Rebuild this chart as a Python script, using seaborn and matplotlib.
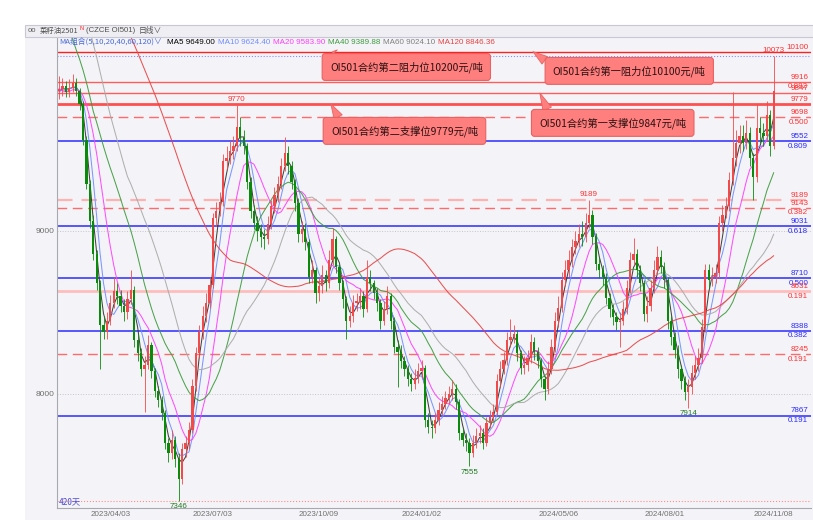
import pandas as pd
import matplotlib
matplotlib.use('Agg')
import matplotlib.pyplot as plt
from matplotlib.patches import Rectangle
import seaborn as sns

# each bar = 2 trading days (420 days shown -> 210 bars)
pre_close = [11250, 11300, 11220, 11280, 11350, 11300, 11260, 11200, 11240, 11300,
             11280, 11220, 11180, 11250, 11300, 11260, 11200, 11230, 11280, 11250,
             11200, 11180, 11240, 11220, 11200, 11230, 11260, 11200, 11180, 11250,
             11220, 11190, 11230, 11200, 11170, 11220, 11240, 11200, 11180, 11210,
             11190, 11150, 11120, 11160, 11100, 11130, 10950, 10880, 10820, 10760,
             10700, 10050, 9900, 9850, 9820, 9860, 9830, 9870, 9840, 9860]

closes = [9870, 9890, 9850, 9880, 9910, 9860, 9780, 9560, 9290, 9060,
          8860, 8680, 8420, 8380, 8450, 8560, 8630, 8600, 8540, 8500,
          8580, 8640, 8330, 8250, 8150, 8180, 8300, 8140, 8020, 7960,
          7880, 7700, 7640, 7720, 7600, 7480, 7660, 7700, 7780, 8050,
          8250, 8380, 8480, 8560, 8670, 9080, 9120, 9180, 9430, 9450,
          9490, 9520, 9640, 9570, 9520, 9300, 9120, 9050, 9000, 8960,
          8950, 9040, 9150, 9220, 9290, 9400, 9480, 9400, 9300, 9170,
          8980, 9010, 8930, 8720, 8760, 8620, 8660, 8730, 8680, 8820,
          8950, 8780, 8680, 8580, 8450, 8480, 8560, 8560, 8600, 8520,
          8720, 8680, 8620, 8560, 8450, 8520, 8600, 8450, 8290, 8260,
          8200, 8150, 8090, 8060, 8100, 8140, 8160, 7840, 7800, 7790,
          7840, 7900, 7940, 7975, 8000, 8030, 7950, 7760, 7720, 7700,
          7640, 7700, 7740, 7760, 7700, 7820, 7860, 7890, 8080, 8150,
          8210, 8330, 8350, 8370, 8250, 8160, 8180, 8220, 8320, 8260,
          8200, 8090, 8030, 8150, 8290, 8450, 8530, 8700, 8760, 8820,
          8900, 8940, 8980, 8960, 9050, 9100, 8960, 8800, 8760, 8720,
          8590, 8520, 8470, 8440, 8450, 8520, 8650, 8820, 8860, 8760,
          8680, 8490, 8540, 8650, 8760, 8840, 8780, 8700, 8450, 8350,
          8270, 8150, 8080, 8010, 8040, 8130, 8180, 8220, 8410, 8760,
          8700, 8720, 8740, 9050, 9100, 9150, 9310, 9450, 9540, 9580,
          9540, 9600, 9450, 9330, 9630, 9600, 9580, 9710, 9520, 9860]

highs = [9950, 9940, 9920, 9930, 9960, 9940, 9880, 9800, 9580, 9310,
         9100, 8880, 8700, 8480, 8500, 8610, 8720, 8680, 8640, 8580,
         8630, 8760, 8660, 8370, 8280, 8230, 8360, 8320, 8160, 8050,
         7990, 7900, 7730, 7780, 7740, 7640, 7700, 7740, 7830, 8090,
         8290, 8420, 8540, 8620, 8720, 9110, 9180, 9240, 9470, 9520,
         9550, 9580, 9770, 9700, 9620, 9540, 9330, 9160, 9090, 9040,
         9010, 9090, 9190, 9270, 9340, 9450, 9575, 9520, 9430, 9320,
         9200, 9060, 9050, 8950, 8820, 8780, 8710, 8790, 8760, 8880,
         9020, 8970, 8800, 8700, 8600, 8540, 8610, 8620, 8650, 8630,
         8820, 8760, 8700, 8650, 8580, 8570, 8660, 8620, 8470, 8330,
         8300, 8230, 8180, 8130, 8150, 8190, 8210, 8180, 7880, 7840,
         7880, 7950, 7990, 8020, 8050, 8085, 8060, 7970, 7790, 7760,
         7730, 7750, 7790, 7810, 7790, 7860, 7900, 7940, 8120, 8200,
         8260, 8380, 8460, 8420, 8390, 8270, 8230, 8270, 8370, 8350,
         8290, 8220, 8110, 8200, 8340, 8500, 8600, 8750, 8820, 8880,
         8950, 9000, 9040, 9060, 9110, 9189, 9130, 8990, 8840, 8790,
         8740, 8620, 8550, 8500, 8500, 8570, 8700, 8870, 8955, 8890,
         8790, 8700, 8600, 8700, 8820, 8910, 8880, 8810, 8720, 8480,
         8380, 8300, 8180, 8110, 8090, 8180, 8230, 8280, 8460, 8800,
         8800, 8780, 8800, 9090, 9160, 9210, 9360, 9850, 9620, 9650,
         9650, 9680, 9640, 9480, 9780, 9700, 9660, 9800, 9740, 10073]

lows = [9810, 9830, 9820, 9820, 9850, 9830, 9740, 9530, 9260, 9020,
        8820, 8640, 8150, 8340, 8340, 8420, 8530, 8550, 8500, 8450,
        8460, 8550, 8290, 8200, 8110, 7890, 8150, 8100, 7980, 7920,
        7840, 7660, 7580, 7600, 7550, 7346, 7450, 7610, 7660, 7760,
        8020, 8220, 8340, 8440, 8530, 8650, 9030, 9090, 9150, 9380,
        9410, 9440, 9490, 9520, 9470, 9260, 9080, 9010, 8940, 8900,
        8890, 8920, 9010, 9110, 9180, 9260, 9370, 9350, 9260, 9120,
        8930, 8930, 8880, 8680, 8680, 8560, 8570, 8620, 8630, 8650,
        8790, 8740, 8640, 8530, 8340, 8410, 8440, 8510, 8520, 8470,
        8500, 8630, 8580, 8510, 8400, 8420, 8490, 8400, 8250, 8040,
        8160, 8110, 8050, 8020, 8030, 8070, 8100, 7800, 7760, 7730,
        7760, 7810, 7870, 7910, 7940, 7960, 7910, 7720, 7680, 7650,
        7555, 7610, 7670, 7700, 7660, 7680, 7790, 7830, 7870, 8040,
        8120, 8180, 8290, 8310, 8200, 8120, 8120, 8140, 8190, 8210,
        8160, 8040, 7960, 8000, 8120, 8260, 8410, 8500, 8660, 8720,
        8780, 8860, 8900, 8910, 8930, 9020, 8920, 8760, 8710, 8670,
        8550, 8470, 8420, 8390, 8290, 8420, 8490, 8620, 8790, 8720,
        8630, 8450, 8440, 8510, 8620, 8730, 8740, 8650, 8400, 8300,
        8220, 8100, 8030, 7960, 7914, 8000, 8090, 8140, 8190, 8380,
        8650, 8660, 8680, 8710, 9000, 9080, 9120, 9280, 9400, 9480,
        9490, 9500, 9400, 9190, 9300, 9540, 9520, 9550, 9460, 9500]

date_pos = [15, 45, 76, 106, 146, 177, 209]
date_labels = ['2023/04/03', '2023/07/03', '2023/10/09', '2024/01/02',
               '2024/05/06', '2024/08/01', '2024/11/08']

ma_names = ['MA5', 'MA10', 'MA20', 'MA40', 'MA60', 'MA120']
ma_windows = [3, 5, 10, 20, 30, 60]   # in 2-day bars
ma_colors = ['#303030', '#6f8cff', '#ff3cff', '#3a9a3a', '#a8a8a8', '#e84040']
ma_values = ['9649.00', '9624.40', '9583.90', '9389.88', '9024.10', '8846.36']
ma_text_x = [167, 218, 273, 328, 383, 438]

level_price = [10100, 9916, 9847, 9779, 9698, 9552, 9189, 9143, 9031, 8710, 8631, 8388, 8245, 7867]
level_ratio = ['', '0.882', '', '', '0.500', '0.809', '', '0.382', '0.618', '0.500', '0.191', '0.382', '0.191', '0.191']
level_kind = ['top', 'r', 'r', 'thick', 'dash', 'b', 'light', 'dash', 'b', 'b', 'pink', 'b', 'dash', 'b']

box_text = ['OI501合约第二阻力位10200元/吨', 'OI501合约第一阻力位10100元/吨',
            'OI501合约第二支撑位9779元/吨', 'OI501合约第一支撑位9847元/吨']
box_xy = [(79.2, 10006), (144.4, 9982), (79.5, 9614), (140.4, 9663)]
box_tip = [(80, 10100), (138.6, 10100), (79.5, 9779), (140.6, 9847)]
box_rel = [(0.08, 1.0), (0.0, 0.9), (0.08, 1.0), (0.08, 1.0)]

peak_high = [52, 155, 209]
peak_low = [35, 120, 184]

# ---------------------------------------------------------------
W, H = 813, 520
bg = '#f4f4f8'
sns.set_theme(style='white')
plt.rcParams['font.family'] = ['Liberation Sans', 'Noto Sans CJK SC', 'DejaVu Sans']
cjk = ['Noto Sans CJK SC', 'DejaVu Sans']

df = pd.DataFrame({'close': closes, 'high': highs, 'low': lows})
df['open'] = df['close'].shift(1).fillna(pre_close[-1])
df['up'] = df['close'] >= df['open']

full = pd.Series(pre_close + closes, dtype=float)
n_pre = len(pre_close)
ma_frames = []
for name, w in zip(ma_names, ma_windows):
    m = full.rolling(w).mean().iloc[n_pre:].reset_index(drop=True)
    ma_frames.append(pd.DataFrame({'i': range(len(m)), 'value': m, 'ma': name}))
ma_long = pd.concat(ma_frames, ignore_index=True)

fig = plt.figure(figsize=(W / 100, H / 100), dpi=100, facecolor=bg)
ax = fig.add_axes([57 / W, (H - 508) / H, (811 - 57) / W, (508 - 37) / H])
ax.set_facecolor(bg)

# white margins + toolbar band
fig.patches.append(Rectangle((0, 1 - 25 / H), 1, 25 / H, transform=fig.transFigure,
                             fc='white', ec='none', zorder=0))
fig.patches.append(Rectangle((0, 0), 25 / W, 1, transform=fig.transFigure,
                             fc='white', ec='none', zorder=0))
fig.patches.append(Rectangle((25 / W, 1 - 37 / H), 1, 12 / H, transform=fig.transFigure,
                             fc='#eeeef3', ec='#c8c8d2', lw=0.8, zorder=0))

# grid
for g in [8000, 9000]:
    ax.axhline(g, color='#c4c4cc', ls=':', lw=0.7, zorder=0)

# support / resistance levels
styles = {
    'top': dict(color='#ff2020', lw=1.0, ls='-'),
    'r': dict(color='#ff5c5c', lw=1.0, ls='-'),
    'thick': dict(color='#ff5050', lw=2.0, ls='-'),
    'dash': dict(color='#ff6a6a', lw=1.0, ls=(0, (7, 4))),
    'light': dict(color='#ffb2b2', lw=1.6, ls=(0, (7, 4))),
    'b': dict(color='#3a3aff', lw=1.2, ls='-'),
    'pink': dict(color='#ffbcbc', lw=2.0, ls='-'),
}
for p, r, k in zip(level_price, level_ratio, level_kind):
    st = styles[k]
    ax.axhline(p, zorder=1, **st)
    tc = '#2a2aff' if k == 'b' else '#ff3030'
    ax.annotate(str(p), xy=(1, p), xycoords=('axes fraction', 'data'), xytext=(-2, 0.8),
                textcoords='offset points', ha='right', va='bottom', fontsize=5.8, color=tc)
    if r:
        ax.annotate(r, xy=(1, p), xycoords=('axes fraction', 'data'), xytext=(-2, -1.2),
                    textcoords='offset points', ha='right', va='top', fontsize=5.8, color=tc)

# period high / low markers
ax.axhline(df['high'].max(), color='#8a8aff', ls=':', lw=0.8, zorder=1)
ax.axhline(df['low'].min(), color='#ff8a8a', ls=':', lw=0.8, zorder=1)

# moving averages
sns.lineplot(data=ma_long, x='i', y='value', hue='ma', hue_order=ma_names,
             palette=ma_colors, legend=False, linewidth=0.75, alpha=0.9, ax=ax, zorder=2)

# candles
cols = ['#f24a4a' if u else '#0a8a0a' for u in df['up']]
ax.vlines(df.index, df['low'], df['high'], colors=cols, lw=0.6, zorder=3)
body_lo = df[['open', 'close']].min(axis=1)
body_h = (df['close'] - df['open']).abs().clip(lower=8)
ax.bar(df.index, body_h, bottom=body_lo, width=0.66, color=cols, lw=0, zorder=3)

# peak labels
for j in peak_high:
    ax.annotate(str(df['high'][j]), xy=(j, df['high'][j]), xytext=(0, 1.5),
                textcoords='offset points', ha='center', va='bottom',
                fontsize=5.8, color='#ff3030', annotation_clip=False, zorder=6)
for j in peak_low:
    ax.annotate(str(df['low'][j]), xy=(j, df['low'][j]), xytext=(0, -1.5),
                textcoords='offset points', ha='center', va='top',
                fontsize=5.8, color='#1f7a1f', annotation_clip=False, zorder=6)

# callout boxes
for t, xy, tip, rel in zip(box_text, box_xy, box_tip, box_rel):
    ax.annotate(t, xy=tip, xytext=xy, textcoords='data', ha='left', va='center',
                fontsize=7.4, family=cjk, color='#2a1010', zorder=8,
                bbox=dict(boxstyle='round,pad=0.75,rounding_size=0.3', fc='#ff7e7e',
                          ec='#e86262', lw=0.8),
                arrowprops=dict(arrowstyle='wedge,tail_width=0.9,shrink_factor=0.5',
                                fc='#ff7e7e', ec='#e86262', lw=0.6, relpos=rel,
                                shrinkA=0, shrinkB=0))

ax.text(0.002, 0.004, '420天', transform=ax.transAxes, fontsize=6, family=cjk,
        color='#4a4ad0', ha='left', va='bottom')

# axes cosmetics
ax.set_xlim(-0.6, 219.9)
ax.set_ylim(7300, 10190)
ax.set_yticks([8000, 9000])
ax.set_yticklabels(['8000', '9000'], fontsize=6, color='#707070')
ax.set_xticks(date_pos)
ax.set_xticklabels(date_labels, fontsize=5.8, color='#707070')
ax.tick_params(axis='y', length=0, pad=2)
ax.tick_params(axis='x', direction='in', length=3, color='#a0a0a0', pad=2)
ax.set_xlabel('')
ax.set_ylabel('')
for s in ['top', 'right']:
    ax.spines[s].set_visible(False)
for s in ['left', 'bottom']:
    ax.spines[s].set_color('#a8a8b0')
    ax.spines[s].set_linewidth(0.8)

# header texts (figure pixel coords)
def ftxt(x, y, s, **kw):
    fig.text(x / W, 1 - y / H, s, va='center', ha='left', **kw)

ftxt(28, 31, 'oo', fontsize=5.5, color='#606060')
ftxt(40, 31, '菜籽油2501', fontsize=5.3, family=cjk, color='#505050')
ftxt(79, 28, 'N', fontsize=4.0, color='#ff2020')
ftxt(86, 31, '(CZCE OI501)', fontsize=5.6, color='#505050')
ftxt(139, 31, '日线∨', fontsize=5.6, family=cjk, color='#505050')
ftxt(59, 42, 'MA组合(5,10,20,40,60,120)∨', fontsize=5.6, family=cjk, color='#4a6ad8')
for name, val, c, x in zip(ma_names, ma_values, ma_colors, ma_text_x):
    cc = '#000000' if name == 'MA5' else ('#808080' if name == 'MA60' else c)
    ftxt(x, 42, f'{name} {val}', fontsize=5.8, color=cc)

plt.savefig('out.png', dpi=100, facecolor=bg)
